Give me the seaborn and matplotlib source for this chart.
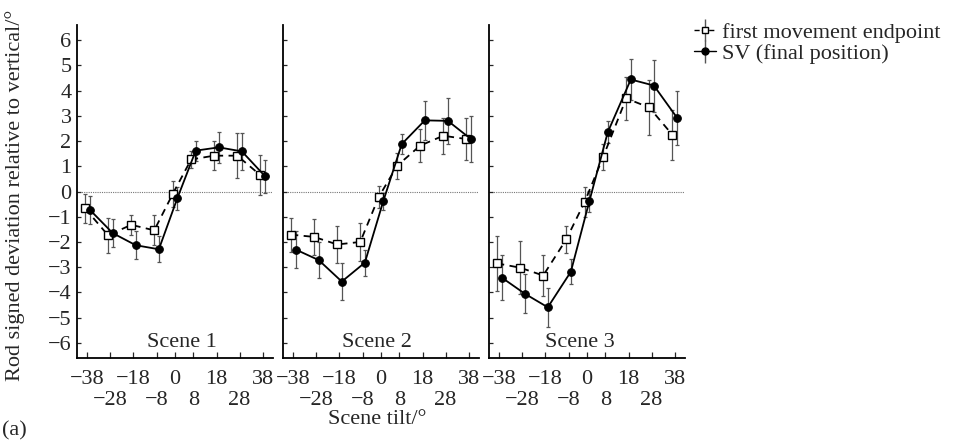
import numpy as np
import pandas as pd
import matplotlib
matplotlib.use("Agg")
import matplotlib.pyplot as plt
import seaborn as sns

tilts = [-38, -28, -18, -8, 0, 8, 18, 28, 38]
scenes = ["Scene 1", "Scene 2", "Scene 3"]
series = ["first movement endpoint", "SV (final position)"]

first_vals = [
    [-0.67, -1.74, -1.32, -1.54, -0.10, 1.27, 1.42, 1.42, 0.65],
    [-1.71, -1.80, -2.10, -2.00, -0.22, 1.02, 1.82, 2.21, 2.08],
    [-2.85, -3.02, -3.33, -1.90, -0.41, 1.37, 3.69, 3.33, 2.25],
]
first_err = [
    [0.58, 0.70, 0.39, 0.59, 0.52, 0.35, 0.57, 0.90, 0.80],
    [0.67, 0.70, 0.72, 0.74, 0.43, 0.52, 0.67, 0.72, 0.82],
    [1.10, 1.06, 0.82, 0.54, 0.59, 0.50, 0.85, 1.10, 1.00],
]
sv_vals = [
    [-0.72, -1.65, -2.13, -2.29, -0.27, 1.62, 1.75, 1.59, 0.61],
    [-2.30, -2.72, -3.57, -2.82, -0.38, 1.88, 2.82, 2.80, 2.08],
    [-3.41, -4.05, -4.59, -3.18, -0.39, 2.35, 4.44, 4.20, 2.93],
]
sv_err = [
    [0.56, 0.56, 0.56, 0.51, 0.45, 0.40, 0.62, 0.72, 0.65],
    [0.75, 0.72, 0.72, 0.52, 0.34, 0.39, 0.77, 0.90, 0.92],
    [0.89, 0.78, 0.78, 0.49, 0.42, 0.43, 0.80, 1.03, 1.07],
]
yticks = list(range(-6, 7))
row1_ticks = [-38, -18, 0, 18, 38]
row2_ticks = [-28, -8, 8, 28]

def lab(v):
    return ("\u2212" + str(abs(v))) if v < 0 else str(v)

rows = []
for si, sc in enumerate(scenes):
    for ti, t in enumerate(tilts):
        rows.append(dict(scene=sc, tilt=t, measure=series[0], val=first_vals[si][ti], err=first_err[si][ti]))
        rows.append(dict(scene=sc, tilt=t, measure=series[1], val=sv_vals[si][ti], err=sv_err[si][ti]))
df = pd.DataFrame(rows)

sns.set_style("ticks")
plt.rcParams["font.family"] = ["Liberation Serif", "DejaVu Serif"]
FS = 16
plt.rcParams["font.size"] = FS

fig = plt.figure(figsize=(9.56, 4.41), dpi=100)
lefts = [77, 283, 489]
width = 196
bottom_px, top_px = 358, 25
W, H = 956, 441
scene_xfrac = [0.537, 0.48, 0.464]
offsets = {series[0]: -1.0, series[1]: 1.0}

axes = []
for i, sc in enumerate(scenes):
    ax = fig.add_axes([lefts[i] / W, 1 - bottom_px / H, width / W, (bottom_px - top_px) / H])
    axes.append(ax)
    sub = df[df.scene == sc].copy()
    sub["xd"] = sub["tilt"] + sub["measure"].map(offsets)
    ax.axhline(0, color="#777777", lw=0.8, ls=(0, (1, 1)), zorder=0)
    for m in series:
        d = sub[sub.measure == m]
        ax.errorbar(d["xd"], d["val"], yerr=d["err"], fmt="none", ecolor="#555555",
                    elinewidth=0.9, capsize=1.5, capthick=0.9, zorder=1)
    sns.lineplot(data=sub, x="xd", y="val", hue="measure", style="measure",
                 palette={series[0]: "black", series[1]: "black"},
                 markers={series[0]: "s", series[1]: "o"},
                 dashes={series[0]: (4, 3), series[1]: ""},
                 linewidth=1.3, markersize=5.5, ax=ax, legend=False, zorder=3)
    for line in ax.lines:
        if line.get_marker() == "s":
            line.set_markerfacecolor("white")
            line.set_markeredgecolor("black")
            line.set_markeredgewidth(1.0)
        elif line.get_marker() == "o":
            line.set_markerfacecolor("black")
            line.set_markeredgecolor("black")
    ax.set_xlim(-42.5, 42.5)
    ax.set_ylim(-6.6, 6.6)
    ax.set_xlabel("")
    ax.set_ylabel("")
    ax.set_yticks(yticks)
    if i == 0:
        ax.set_yticklabels([lab(v) for v in yticks])
    else:
        ax.set_yticklabels([])
    ax.set_xticks(row1_ticks)
    ax.set_xticklabels([lab(v) for v in row1_ticks])
    ax.set_xticks(row2_ticks, minor=True)
    ax.set_xticklabels([lab(v) for v in row2_ticks], minor=True)
    ax.tick_params(axis="x", which="major", direction="in", length=4, width=0.9, pad=9, labelsize=FS)
    ax.tick_params(axis="x", which="minor", direction="in", length=4, width=0.9, pad=24, labelsize=FS)
    ax.tick_params(axis="y", direction="in", length=3, width=0.9, pad=4, labelsize=FS)
    sns.despine(ax=ax)
    for s in ["left", "bottom"]:
        ax.spines[s].set_linewidth(1.3)
        ax.spines[s].set_color("black")
    ax.text(scene_xfrac[i], (-6.0 + 6.6) / 13.2, sc, transform=ax.transAxes,
            ha="center", va="center", fontsize=FS)

h1 = axes[2].errorbar([], [], yerr=[], fmt="s", color="black", mfc="white", mec="black",
                      ls="--", ecolor="#555555", capsize=2, markersize=5, lw=1.0)
h2 = axes[2].errorbar([], [], yerr=[], fmt="o", color="black", mfc="black", mec="black",
                      ls="-", ecolor="#555555", capsize=2, markersize=5, lw=1.0)
fig.legend([h1, h2], series, loc="upper left", bbox_to_anchor=(694 / W, 1 - 22 / H),
           frameon=False, handlelength=1.0, handletextpad=0.25, labelspacing=0.05,
           fontsize=FS, borderaxespad=0, borderpad=0)

fig.text(15 / W, 1 - 195 / H, "Rod signed deviation relative to vertical/\u00b0",
         rotation=90, ha="center", va="center", fontsize=FS)
fig.text(377 / W, 1 - 420 / H, "Scene tilt/\u00b0", ha="center", va="center", fontsize=FS)
fig.text(2 / W, 1 - 431 / H, "(a)", ha="left", va="center", fontsize=FS)

fig.savefig("out.png", dpi=100)
